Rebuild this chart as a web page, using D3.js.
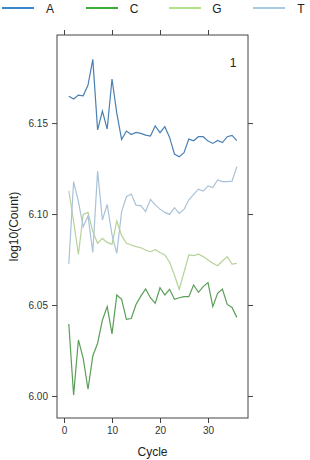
<!DOCTYPE html>
<html>
<head>
<meta charset="utf-8">
<script src="https://cdn.jsdelivr.net/npm/d3@7"></script>
<style>
  body { margin: 0; background: #fff; }
  svg { display: block; font-family: "Liberation Sans", Arial, sans-serif; }
</style>
</head>
<body>
<script>
// values, cycles 1..36
var cycles = d3.range(1, 37);
var bases = ["A", "C", "G", "T"];

var valA = [6.1647, 6.1632, 6.1654, 6.1650, 6.1709, 6.1850, 6.1462, 6.1566, 6.1467, 6.1742,
  6.1553, 6.1410, 6.1456, 6.1437, 6.1449, 6.1443, 6.1434, 6.1429, 6.1484, 6.1447,
  6.1480, 6.1421, 6.1330, 6.1315, 6.1337, 6.1412, 6.1403, 6.1425, 6.1425, 6.1401,
  6.1388, 6.1404, 6.1393, 6.1425, 6.1432, 6.1403];
var valC = [6.0396, 6.0005, 6.0308, 6.0207, 6.0037, 6.0220, 6.0290, 6.0418, 6.0491, 6.0341,
  6.0555, 6.0531, 6.0421, 6.0426, 6.0503, 6.0549, 6.0588, 6.0540, 6.0509, 6.0595,
  6.0555, 6.0586, 6.0531, 6.0540, 6.0546, 6.0546, 6.0610, 6.0570, 6.0601, 6.0623,
  6.0491, 6.0564, 6.0588, 6.0503, 6.0487, 6.0432];
var valG = [6.1128, 6.0958, 6.0778, 6.0998, 6.1009, 6.0903, 6.0839, 6.0866, 6.0844, 6.0833,
  6.0962, 6.0881, 6.0839, 6.0830, 6.0821, 6.0815, 6.0802, 6.0793, 6.0804, 6.0789,
  6.0775, 6.0735, 6.0665, 6.0586, 6.0680, 6.0775, 6.0772, 6.0780, 6.0766, 6.0747,
  6.0729, 6.0716, 6.0742, 6.0766, 6.0725, 6.0729];
var valT = [6.0725, 6.1178, 6.1068, 6.0930, 6.0989, 6.0789, 6.1236, 6.0967, 6.1053, 6.0885,
  6.0784, 6.1013, 6.1095, 6.1110, 6.1049, 6.1046, 6.1013, 6.1081, 6.1050, 6.1027,
  6.1009, 6.0998, 6.1035, 6.1003, 6.1025, 6.1077, 6.1108, 6.1137, 6.1126, 6.1155,
  6.1146, 6.1187, 6.1178, 6.1178, 6.1181, 6.1260];

var xTicks = [0, 10, 20, 30];
var yTicks = [6.00, 6.05, 6.10, 6.15];
var panelLabel = "1";

var series = [valA, valC, valG, valT];
var lineCol = ["#4a80b3", "#5a9e58", "#b7d29a", "#a9c2d8"];
var keyCol = ["#3a86cc", "#3bab3a", "#b4e08c", "#a6cbe6"];

var W = 310, H = 460;
var box = {left: 57, right: 248, top: 35, bottom: 418};

var svg = d3.select("body").append("svg").attr("width", W).attr("height", H);

var x = d3.scaleLinear().domain([-1.46, 38.33]).range([box.left, box.right]);
var y = d3.scaleLinear().domain([5.9879, 6.1984]).range([box.bottom, box.top]);

// legend on top
var keyX = [2, 86, 169, 253];
var key = svg.append("g").selectAll("g").data(bases).enter().append("g")
  .attr("transform", function(d, i) { return "translate(" + keyX[i] + ",8)"; });
key.append("line").attr("x1", 0).attr("x2", 32).attr("y1", 0).attr("y2", 0)
  .attr("stroke", function(d, i) { return keyCol[i]; }).attr("stroke-width", 2);
key.append("text").attr("x", 48).attr("y", 4.5).attr("text-anchor", "middle")
  .style("font-size", "12px").attr("fill", "#222").text(function(d) { return d; });

// data lines
var line = d3.line().x(function(d, i) { return x(cycles[i]); }).y(function(d) { return y(d); });
svg.append("g").selectAll("path").data(series).enter().append("path")
  .attr("d", line).attr("fill", "none")
  .attr("stroke", function(d, i) { return lineCol[i]; })
  .attr("stroke-width", 1.2);

// axes, lattice style: ticks on all four sides, labels left and bottom
var tickCol = "#444";
svg.append("g").attr("transform", "translate(0," + box.bottom + ")")
  .call(d3.axisBottom(x).tickValues(xTicks).tickSize(5).tickPadding(4).tickFormat(d3.format("d")))
  .call(function(g) { g.select(".domain").remove(); });
svg.append("g").attr("transform", "translate(0," + box.top + ")")
  .call(d3.axisTop(x).tickValues(xTicks).tickSize(5).tickFormat(""))
  .call(function(g) { g.select(".domain").remove(); });
svg.append("g").attr("transform", "translate(" + box.left + ",0)")
  .call(d3.axisLeft(y).tickValues(yTicks).tickSize(5).tickPadding(4).tickFormat(d3.format(".2f")))
  .call(function(g) { g.select(".domain").remove(); });
svg.append("g").attr("transform", "translate(" + box.right + ",0)")
  .call(d3.axisRight(y).tickValues(yTicks).tickSize(5).tickFormat(""))
  .call(function(g) { g.select(".domain").remove(); });

svg.selectAll(".tick line").attr("stroke", tickCol);
svg.selectAll(".tick text").attr("fill", "#333").style("font-size", "10px")
  .style("font-family", "'Liberation Sans', Arial, sans-serif");

svg.append("rect").attr("x", box.left).attr("y", box.top)
  .attr("width", box.right - box.left).attr("height", box.bottom - box.top)
  .attr("fill", "none").attr("stroke", tickCol).attr("stroke-width", 1);

// panel label
svg.append("text").attr("x", 233).attr("y", 67).attr("text-anchor", "middle")
  .style("font-size", "12px").attr("fill", "#222").text(panelLabel);

// axis titles
svg.append("text").attr("x", (box.left + box.right) / 2).attr("y", 456)
  .attr("text-anchor", "middle").style("font-size", "12px").attr("fill", "#222").text("Cycle");
svg.append("text").attr("transform", "translate(18," + ((box.top + box.bottom) / 2) + ") rotate(-90)")
  .attr("text-anchor", "middle").style("font-size", "12px").attr("fill", "#222").text("log10(Count)");
</script>
</body>
</html>
